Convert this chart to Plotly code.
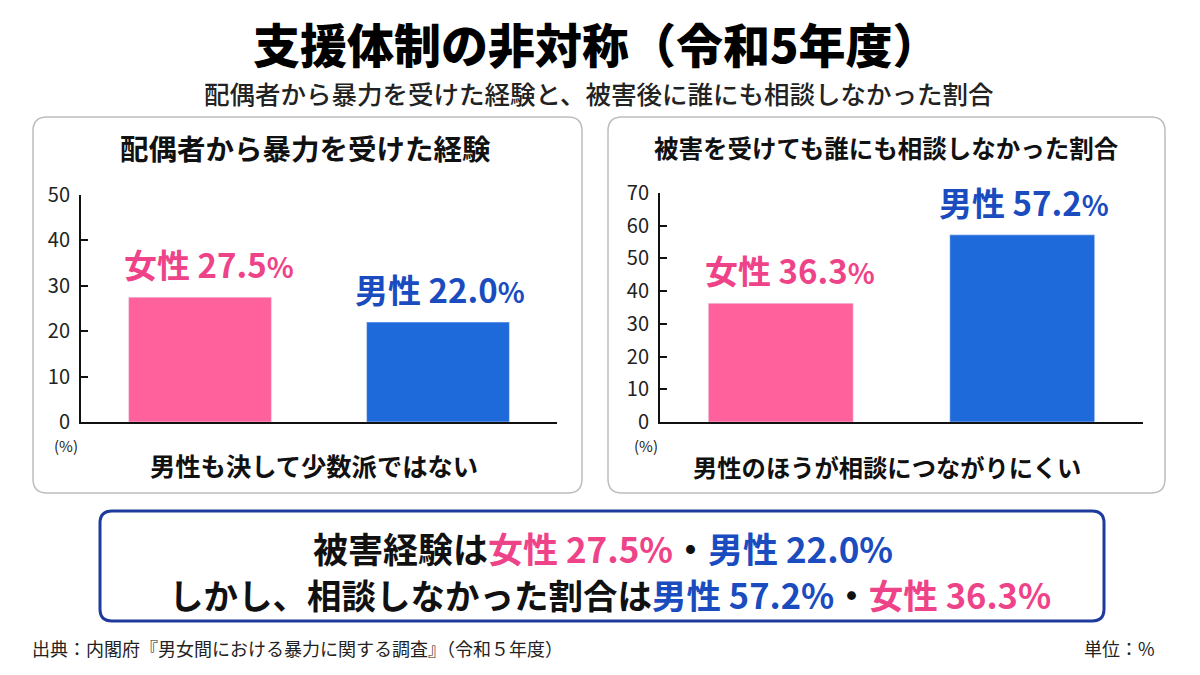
import plotly.graph_objects as go

# ---- data ----
categories = ["女性", "男性"]
experience = [27.5, 22.0]          # 配偶者から暴力を受けた経験 (%)
no_consult = [36.3, 57.2]          # 被害を受けても誰にも相談しなかった割合 (%)
left_ticks = [0, 10, 20, 30, 40, 50]
right_ticks = [0, 10, 20, 30, 40, 50, 60, 70]

title = "支援体制の非対称（令和5年度）"
subtitle = "配偶者から暴力を受けた経験と、被害後に誰にも相談しなかった割合"
left_title = "配偶者から暴力を受けた経験"
right_title = "被害を受けても誰にも相談しなかった割合"
left_note = "男性も決して少数派ではない"
right_note = "男性のほうが相談につながりにくい"
source = "出典：内閣府『男女間における暴力に関する調査』（令和５年度）"
unit = "単位：%"

PINK_BAR = "#FF619C"
BLUE_BAR = "#1F6ADB"
PINK_TXT = "#EE4388"
BLUE_TXT = "#1A4CBF"
bar_colors = [PINK_BAR, BLUE_BAR]
txt_colors = [PINK_TXT, BLUE_TXT]
label_xshift = [9, 2]

W, H = 1200, 675
OFF = 8  # page body margin offset in the browser
FONT = "Noto Sans CJK JP"


def px(x):
    return (x - OFF) / W


def py(y):
    return 1 - (y - OFF) / H


def rounded_rect(x0, y0, x1, y1, r):
    X0, X1 = px(x0), px(x1)
    Y0, Y1 = py(y0), py(y1)
    rx, ry = r / W, r / H
    return (f"M {X0+rx},{Y0} L {X1-rx},{Y0} Q {X1},{Y0} {X1},{Y0-ry} "
            f"L {X1},{Y1+ry} Q {X1},{Y1} {X1-rx},{Y1} "
            f"L {X0+rx},{Y1} Q {X0},{Y1} {X0},{Y1+ry} "
            f"L {X0},{Y0-ry} Q {X0},{Y0} {X0+rx},{Y0} Z")


fig = go.Figure()
fig.add_trace(go.Bar(x=categories, y=experience, marker_color=bar_colors,
                     width=0.6, xaxis="x", yaxis="y", showlegend=False,
                     hoverinfo="skip"))
fig.add_trace(go.Bar(x=categories, y=no_consult, marker_color=bar_colors,
                     width=0.6, xaxis="x2", yaxis="y2", showlegend=False,
                     hoverinfo="skip"))

axis_common = dict(showline=True, linecolor="#111", linewidth=2, showgrid=False,
                   zeroline=False, fixedrange=True, automargin=False)
tickfont = dict(size=20, color="#222", family="Liberation Sans Narrow, " + FONT)
fig.update_layout(
    width=W, height=H, autosize=False, margin=dict(l=0, r=0, t=0, b=0, pad=0),
    paper_bgcolor="white", plot_bgcolor="rgba(0,0,0,0)",
    font=dict(family=FONT, color="#111"),
    xaxis=dict(domain=[px(81), px(557)], range=[-0.5, 1.5], showticklabels=False,
               ticks="", anchor="y", **axis_common),
    yaxis=dict(domain=[py(422), py(195)], range=[0, 50], tickvals=left_ticks,
               ticks="inside", ticklen=7, tickwidth=1.5, tickcolor="#111",
               tickfont=tickfont, anchor="x", ticklabelstandoff=5, **axis_common),
    xaxis2=dict(domain=[px(660), px(1143)], range=[-0.5, 1.5], showticklabels=False,
                ticks="", anchor="y2", **axis_common),
    yaxis2=dict(domain=[py(422), py(193)], range=[0, 70], tickvals=right_ticks,
                ticks="inside", ticklen=7, tickwidth=1.5, tickcolor="#111",
                tickfont=tickfont, anchor="x2", ticklabelstandoff=5, **axis_common),
)

shapes = [
    dict(type="path", path=rounded_rect(33, 117, 582, 493, 14), xref="paper", yref="paper",
         line=dict(color="#BDBDBD", width=1.5), fillcolor="rgba(0,0,0,0)", layer="below"),
    dict(type="path", path=rounded_rect(608, 117, 1165, 493, 14), xref="paper", yref="paper",
         line=dict(color="#BDBDBD", width=1.5), fillcolor="rgba(0,0,0,0)", layer="below"),
    dict(type="path", path=rounded_rect(100, 511, 1104, 621, 12), xref="paper", yref="paper",
         line=dict(color="#1E3A9C", width=3), fillcolor="white", layer="below"),
]
fig.update_layout(shapes=shapes)

ann = []


def text(x, y, t, size, color="#111", xanchor="center", weight=700):
    ann.append(dict(x=px(x), y=py(y), xref="paper", yref="paper", text=t,
                    showarrow=False, xanchor=xanchor, yanchor="middle",
                    font=dict(size=size, color=color, family=FONT, weight=weight)))


text(596, 42.5, title, 47, "#000", weight=900)
text(598, 92, subtitle, 25.5, "#222", weight=500)
text(305, 148, left_title, 28.5)
text(886, 148, right_title, 24.5)
text(314, 465, left_note, 25.3)
text(887, 466, right_note, 24.3)
text(66, 445, "(%)", 15, "#222", weight=400)
text(646, 445, "(%)", 15, "#222", weight=400)
text(30, 648, source, 18, "#222", xanchor="left", weight=400)
text(1157, 648, unit, 18, "#222", xanchor="right", weight=400)


def label(cat, val, color):
    return (f"<span style='color:{color}'>{cat} {val:.1f}"
            f"<span style='font-size:28px'>%</span></span>")


for xa, ya, vals in (("x", "y", experience), ("x2", "y2", no_consult)):
    for i, (c, v) in enumerate(zip(categories, vals)):
        ann.append(dict(x=c, y=v, xref=xa, yref=ya, text=label(c, v, txt_colors[i]),
                        showarrow=False, yanchor="bottom", yshift=7, xshift=label_xshift[i],
                        font=dict(size=33, family=FONT, color=txt_colors[i], weight=700)))


def span(t, color):
    return f"<span style='color:{color}'>{t}</span>"


line1 = ("被害経験は" + span(f"{categories[0]} {experience[0]:.1f}%", PINK_TXT) + "・"
         + span(f"{categories[1]} {experience[1]:.1f}%", BLUE_TXT))
line2 = ("しかし、相談しなかった割合は" + span(f"{categories[1]} {no_consult[1]:.1f}%", BLUE_TXT) + "・"
         + span(f"{categories[0]} {no_consult[0]:.1f}%", PINK_TXT))
text(603, 547, line1, 35)
text(610, 594, line2, 34.5)

fig.update_layout(annotations=ann)
fig.write_html("out.html")
